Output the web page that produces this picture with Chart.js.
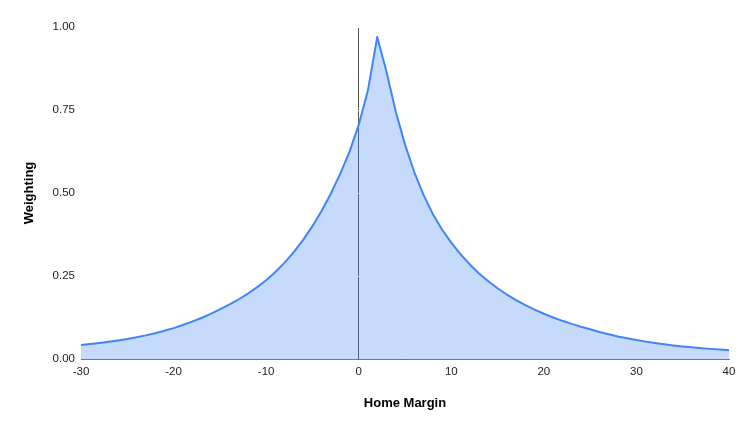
<!DOCTYPE html>
<html>
<head>
<meta charset="utf-8">
<script src="https://cdn.jsdelivr.net/npm/chart.js@4"></script>
<style>
    html, body { margin: 0; padding: 0; background: #fff; }
    #wrap { width: 750px; height: 429px; }
</style>
</head>
<body>
<div id="wrap"><canvas id="chartWeighting"></canvas></div>
<script>
// home margin, -30 .. 40 step 1
const margins = [];
for (let m = -30; m <= 40; m++) margins.push(m);

const weights = [
    0.0420, 0.0449, 0.0482, 0.0518, 0.0558, 0.0603, 0.0654, 0.0712, 0.0777, 0.0850,
    0.0931, 0.1023, 0.1124, 0.1236, 0.1360, 0.1496, 0.1637, 0.1792, 0.1964, 0.2157,
    0.2372, 0.2619, 0.2902, 0.3224, 0.3588, 0.4001, 0.4465, 0.4987, 0.5576, 0.6240,
    0.7050, 0.8100, 0.9700, 0.8650, 0.7456, 0.6457, 0.5631, 0.4944, 0.4370, 0.3902,
    0.3504, 0.3154, 0.2848, 0.2577, 0.2340, 0.2130, 0.1942, 0.1773, 0.1622, 0.1486,
    0.1363, 0.1251, 0.1150, 0.1058, 0.0974, 0.0898, 0.0815, 0.0745, 0.0680, 0.0622,
    0.0570, 0.0523, 0.0481, 0.0443, 0.0409, 0.0379, 0.0352, 0.0327, 0.0305, 0.0285,
    0.0267
];

const xTicks = [-30, -20, -10, 0, 10, 20, 30, 40];
const yTicks = [0, 0.25, 0.5, 0.75, 1];

const tickFont = {family: 'Arial, "Liberation Sans", sans-serif', size: 11.5};
const titleFont = {family: 'Arial, "Liberation Sans", sans-serif', size: 13, weight: 'bold'};

const zeroLine = ctx => ctx.tick && ctx.tick.value === 0 ? '#555' : '#ffffff';

new Chart(document.getElementById('chartWeighting'), {
    type: 'line',
    data: {
        datasets: [{
            label: 'Weighting',
            data: margins.map((m, i) => ({x: m, y: weights[i]})),
            borderColor: '#4285f4',
            backgroundColor: 'rgba(66, 133, 244, 0.3)',
            borderWidth: 2,
            borderJoinStyle: 'round',
            fill: 'origin',
            pointRadius: 0,
            tension: 0
        }]
    },
    options: {
        responsive: true,
        maintainAspectRatio: false,
        animation: false,
        layout: {padding: {top: 27, right: 21, bottom: 0, left: 0}},
        plugins: {
            legend: {display: false},
            tooltip: {enabled: false}
        },
        scales: {
            x: {
                type: 'linear',
                min: -30,
                max: 40,
                afterFit: scale => { scale.height = 70; },
                afterBuildTicks: scale => { scale.ticks = xTicks.map(v => ({value: v})); },
                grid: {color: zeroLine, drawTicks: false},
                border: {display: true, color: '#777'},
                ticks: {font: tickFont, color: '#222', padding: 6, maxRotation: 0},
                title: {display: true, text: 'Home Margin', font: titleFont, color: '#000', padding: {top: 0, bottom: 18}}
            },
            y: {
                min: 0,
                max: 1,
                afterFit: scale => { scale.width = 81; },
                afterBuildTicks: scale => { scale.ticks = yTicks.map(v => ({value: v})); },
                grid: {color: zeroLine, drawTicks: false},
                border: {display: false},
                ticks: {font: tickFont, color: '#222', padding: 6, callback: v => v.toFixed(2)},
                title: {display: true, text: 'Weighting', font: titleFont, color: '#000', padding: {top: 22, bottom: 0}}
            }
        }
    }
});
</script>
</body>
</html>
